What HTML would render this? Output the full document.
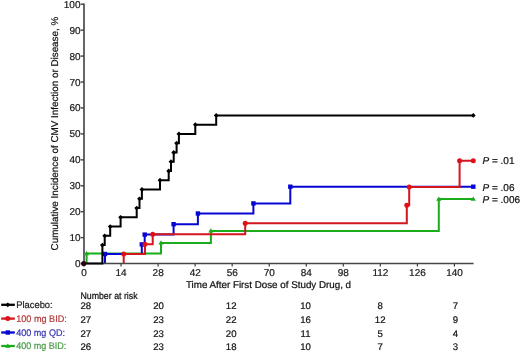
<!DOCTYPE html>
<html><head><meta charset="utf-8"><style>
html,body{margin:0;padding:0;background:#fff;}
svg{display:block;will-change:transform;}
text{font-family:"Liberation Sans",sans-serif;text-rendering:geometricPrecision;}
</style></head><body>
<svg width="520" height="351" viewBox="0 0 520 351">
<rect width="520" height="351" fill="#fff"/>

<line x1="84.0" y1="3.4" x2="84.0" y2="264.40000000000003" stroke="#666" stroke-width="2"/>
<line x1="80.8" y1="263.6" x2="84.0" y2="263.6" stroke="#4a4a4a" stroke-width="1.5"/>
<text x="80.5" y="267.1" font-size="10" text-anchor="end" fill="#1a1a1a" stroke="#1a1a1a" stroke-width="0.22">0</text>
<line x1="80.8" y1="237.66" x2="84.0" y2="237.66" stroke="#4a4a4a" stroke-width="1.5"/>
<text x="80.5" y="241.16" font-size="10" text-anchor="end" fill="#1a1a1a" stroke="#1a1a1a" stroke-width="0.22">10</text>
<line x1="80.8" y1="211.72" x2="84.0" y2="211.72" stroke="#4a4a4a" stroke-width="1.5"/>
<text x="80.5" y="215.22" font-size="10" text-anchor="end" fill="#1a1a1a" stroke="#1a1a1a" stroke-width="0.22">20</text>
<line x1="80.8" y1="185.78" x2="84.0" y2="185.78" stroke="#4a4a4a" stroke-width="1.5"/>
<text x="80.5" y="189.28" font-size="10" text-anchor="end" fill="#1a1a1a" stroke="#1a1a1a" stroke-width="0.22">30</text>
<line x1="80.8" y1="159.84" x2="84.0" y2="159.84" stroke="#4a4a4a" stroke-width="1.5"/>
<text x="80.5" y="163.34" font-size="10" text-anchor="end" fill="#1a1a1a" stroke="#1a1a1a" stroke-width="0.22">40</text>
<line x1="80.8" y1="133.9" x2="84.0" y2="133.9" stroke="#4a4a4a" stroke-width="1.5"/>
<text x="80.5" y="137.4" font-size="10" text-anchor="end" fill="#1a1a1a" stroke="#1a1a1a" stroke-width="0.22">50</text>
<line x1="80.8" y1="107.96" x2="84.0" y2="107.96" stroke="#4a4a4a" stroke-width="1.5"/>
<text x="80.5" y="111.46" font-size="10" text-anchor="end" fill="#1a1a1a" stroke="#1a1a1a" stroke-width="0.22">60</text>
<line x1="80.8" y1="82.02" x2="84.0" y2="82.02" stroke="#4a4a4a" stroke-width="1.5"/>
<text x="80.5" y="85.52" font-size="10" text-anchor="end" fill="#1a1a1a" stroke="#1a1a1a" stroke-width="0.22">70</text>
<line x1="80.8" y1="56.08" x2="84.0" y2="56.08" stroke="#4a4a4a" stroke-width="1.5"/>
<text x="80.5" y="59.58" font-size="10" text-anchor="end" fill="#1a1a1a" stroke="#1a1a1a" stroke-width="0.22">80</text>
<line x1="80.8" y1="30.14" x2="84.0" y2="30.14" stroke="#4a4a4a" stroke-width="1.5"/>
<text x="80.5" y="33.64" font-size="10" text-anchor="end" fill="#1a1a1a" stroke="#1a1a1a" stroke-width="0.22">90</text>
<line x1="80.8" y1="4.2" x2="84.0" y2="4.2" stroke="#4a4a4a" stroke-width="1.5"/>
<text x="80.5" y="7.7" font-size="10" text-anchor="end" fill="#1a1a1a" stroke="#1a1a1a" stroke-width="0.22">100</text>
<line x1="84" y1="263.6" x2="84" y2="266.6" stroke="#2a2a2a" stroke-width="1.1"/>
<text x="84.1" y="275.9" font-size="10" text-anchor="middle" fill="#1a1a1a" stroke="#1a1a1a" stroke-width="0.22">0</text>
<line x1="121.04" y1="263.6" x2="121.04" y2="266.6" stroke="#2a2a2a" stroke-width="1.1"/>
<text x="121.14" y="275.9" font-size="10" text-anchor="middle" fill="#1a1a1a" stroke="#1a1a1a" stroke-width="0.22">14</text>
<line x1="158.08" y1="263.6" x2="158.08" y2="266.6" stroke="#2a2a2a" stroke-width="1.1"/>
<text x="158.18" y="275.9" font-size="10" text-anchor="middle" fill="#1a1a1a" stroke="#1a1a1a" stroke-width="0.22">28</text>
<line x1="195.12" y1="263.6" x2="195.12" y2="266.6" stroke="#2a2a2a" stroke-width="1.1"/>
<text x="195.22" y="275.9" font-size="10" text-anchor="middle" fill="#1a1a1a" stroke="#1a1a1a" stroke-width="0.22">42</text>
<line x1="232.16" y1="263.6" x2="232.16" y2="266.6" stroke="#2a2a2a" stroke-width="1.1"/>
<text x="232.26" y="275.9" font-size="10" text-anchor="middle" fill="#1a1a1a" stroke="#1a1a1a" stroke-width="0.22">56</text>
<line x1="269.2" y1="263.6" x2="269.2" y2="266.6" stroke="#2a2a2a" stroke-width="1.1"/>
<text x="269.3" y="275.9" font-size="10" text-anchor="middle" fill="#1a1a1a" stroke="#1a1a1a" stroke-width="0.22">70</text>
<line x1="306.24" y1="263.6" x2="306.24" y2="266.6" stroke="#2a2a2a" stroke-width="1.1"/>
<text x="306.34" y="275.9" font-size="10" text-anchor="middle" fill="#1a1a1a" stroke="#1a1a1a" stroke-width="0.22">84</text>
<line x1="343.28" y1="263.6" x2="343.28" y2="266.6" stroke="#2a2a2a" stroke-width="1.1"/>
<text x="343.38" y="275.9" font-size="10" text-anchor="middle" fill="#1a1a1a" stroke="#1a1a1a" stroke-width="0.22">98</text>
<line x1="380.32" y1="263.6" x2="380.32" y2="266.6" stroke="#2a2a2a" stroke-width="1.1"/>
<text x="380.42" y="275.9" font-size="10" text-anchor="middle" fill="#1a1a1a" stroke="#1a1a1a" stroke-width="0.22">112</text>
<line x1="417.36" y1="263.6" x2="417.36" y2="266.6" stroke="#2a2a2a" stroke-width="1.1"/>
<text x="417.46" y="275.9" font-size="10" text-anchor="middle" fill="#1a1a1a" stroke="#1a1a1a" stroke-width="0.22">126</text>
<line x1="454.4" y1="263.6" x2="454.4" y2="266.6" stroke="#2a2a2a" stroke-width="1.1"/>
<text x="454.5" y="275.9" font-size="10" text-anchor="middle" fill="#1a1a1a" stroke="#1a1a1a" stroke-width="0.22">140</text>
<text x="268.5" y="287.5" font-size="9.8" text-anchor="middle" fill="#111" stroke="#111" stroke-width="0.22">Time After First Dose of Study Drug, d</text>
<text transform="translate(58.3,133.6) rotate(-90)" x="0" y="0" font-size="9.85" text-anchor="middle" fill="#111" stroke="#111" stroke-width="0.22">Cumulative Incidence of CMV Infection or Disease, %</text>
<path d="M86.6 263.6L86.6 263.6L86.6 253.6L161 253.6L161 242.9L210.9 242.9L210.9 230.9L438.8 230.9L438.8 199L473.3 199" fill="none" stroke="#1aac1a" stroke-width="2" stroke-linejoin="miter" stroke-linecap="butt"/>
<path d="M84 255.3L86.6 251L89.2 255.3Z" fill="#1aac1a"/>
<path d="M158.4 244.6L161 240.3L163.6 244.6Z" fill="#1aac1a"/>
<path d="M208.3 232.6L210.9 228.3L213.5 232.6Z" fill="#1aac1a"/>
<path d="M436.2 200.7L438.8 196.4L441.4 200.7Z" fill="#1aac1a"/>
<path d="M470.7 200.7L473.3 196.4L475.9 200.7Z" fill="#1aac1a"/>
<path d="M105 263.6L105 263.6L105 254L141.8 254L141.8 244.4L144.7 244.4L144.7 234.6L173.6 234.6L173.6 224.2L197.9 224.2L197.9 213.5L253.4 213.5L253.4 203.4L290.3 203.4L290.3 186.7L473.3 186.7" fill="none" stroke="#0606d2" stroke-width="2" stroke-linejoin="miter" stroke-linecap="butt"/>
<rect x="102.8" y="251.8" width="4.4" height="4.4" fill="#0606d2"/>
<rect x="139.6" y="242.2" width="4.4" height="4.4" fill="#0606d2"/>
<rect x="142.5" y="232.4" width="4.4" height="4.4" fill="#0606d2"/>
<rect x="171.4" y="222" width="4.4" height="4.4" fill="#0606d2"/>
<rect x="195.7" y="211.3" width="4.4" height="4.4" fill="#0606d2"/>
<rect x="251.2" y="201.2" width="4.4" height="4.4" fill="#0606d2"/>
<rect x="288.1" y="184.5" width="4.4" height="4.4" fill="#0606d2"/>
<rect x="471.1" y="184.5" width="4.4" height="4.4" fill="#0606d2"/>
<path d="M123.7 263.6L123.7 263.6L123.7 254L145 254L145 244.2L152.7 244.2L152.7 234.2L245.2 234.2L245.2 223.2L406.8 223.2L406.8 205.3L409.2 205.3L409.2 186.9L459.6 186.9L459.6 160.7L473.3 160.7" fill="none" stroke="#d4161e" stroke-width="2" stroke-linejoin="miter" stroke-linecap="butt"/>
<circle cx="123.7" cy="254" r="2.5" fill="#e01018"/>
<circle cx="145" cy="244.2" r="2.5" fill="#e01018"/>
<circle cx="152.7" cy="234.2" r="2.5" fill="#e01018"/>
<circle cx="245.2" cy="223.2" r="2.5" fill="#e01018"/>
<circle cx="406.8" cy="205.3" r="2.5" fill="#e01018"/>
<circle cx="409.2" cy="186.9" r="2.5" fill="#e01018"/>
<circle cx="459.6" cy="160.7" r="2.5" fill="#e01018"/>
<circle cx="473.3" cy="160.7" r="2.5" fill="#e01018"/>
<line x1="83.0" y1="263.6" x2="473.6" y2="263.6" stroke="#474747" stroke-width="1.5"/>
<path d="M84 263.6L102.4 263.6L102.4 245.08L104.7 245.08L104.7 235.82L110.2 235.82L110.2 226.56L120.6 226.56L120.6 217.3L136.7 217.3L136.7 208.04L139.5 208.04L139.5 198.78L141.9 198.78L141.9 189.52L160 189.52L160 180.26L168.7 180.26L168.7 171L171 171L171 161.74L173.7 161.74L173.7 152.48L176.6 152.48L176.6 143.22L178.9 143.22L178.9 133.96L195.3 133.96L195.3 124.7L216.2 124.7L216.2 115.44L473.3 115.44" fill="none" stroke="#000" stroke-width="2" stroke-linejoin="miter" stroke-linecap="butt"/>
<path d="M100 245.08L102.4 242.68L104.8 245.08L102.4 247.48Z" fill="#000"/>
<path d="M102.3 235.82L104.7 233.42L107.1 235.82L104.7 238.22Z" fill="#000"/>
<path d="M107.8 226.56L110.2 224.16L112.6 226.56L110.2 228.96Z" fill="#000"/>
<path d="M118.2 217.3L120.6 214.9L123 217.3L120.6 219.7Z" fill="#000"/>
<path d="M134.3 208.04L136.7 205.64L139.1 208.04L136.7 210.44Z" fill="#000"/>
<path d="M137.1 198.78L139.5 196.38L141.9 198.78L139.5 201.18Z" fill="#000"/>
<path d="M139.5 189.52L141.9 187.12L144.3 189.52L141.9 191.92Z" fill="#000"/>
<path d="M157.6 180.26L160 177.86L162.4 180.26L160 182.66Z" fill="#000"/>
<path d="M166.3 171L168.7 168.6L171.1 171L168.7 173.4Z" fill="#000"/>
<path d="M168.6 161.74L171 159.34L173.4 161.74L171 164.14Z" fill="#000"/>
<path d="M171.3 152.48L173.7 150.08L176.1 152.48L173.7 154.88Z" fill="#000"/>
<path d="M174.2 143.22L176.6 140.82L179 143.22L176.6 145.62Z" fill="#000"/>
<path d="M176.5 133.96L178.9 131.56L181.3 133.96L178.9 136.36Z" fill="#000"/>
<path d="M192.9 124.7L195.3 122.3L197.7 124.7L195.3 127.1Z" fill="#000"/>
<path d="M213.8 115.44L216.2 113.04L218.6 115.44L216.2 117.84Z" fill="#000"/>
<path d="M470.9 115.44L473.3 113.04L475.7 115.44L473.3 117.84Z" fill="#000"/>
<circle cx="83.7" cy="263.6" r="2.6" fill="#300012"/>
<text x="482.5" y="164.2" font-size="10" fill="#111" stroke="#111" stroke-width="0.22"><tspan font-style="italic">P</tspan> = .01</text>
<text x="482.5" y="191.0" font-size="10" fill="#111" stroke="#111" stroke-width="0.22"><tspan font-style="italic">P</tspan> = .06</text>
<text x="482.5" y="203.4" font-size="10" fill="#111" stroke="#111" stroke-width="0.22"><tspan font-style="italic">P</tspan> = .006</text>
<text x="80.4" y="299" font-size="9.6" textLength="57.2" lengthAdjust="spacingAndGlyphs" fill="#111" stroke="#111" stroke-width="0.22">Number at risk</text>
<line x1="1.2" y1="304.8" x2="14.8" y2="304.8" stroke="#000" stroke-width="2.3"/>
<path d="M5.4 304.8L7.8 302.4L10.2 304.8L7.8 307.2Z" fill="#000"/>
<text x="16.2" y="308.3" font-size="9.6" textLength="36.5" lengthAdjust="spacingAndGlyphs" fill="#222" stroke="#222" stroke-width="0.22">Placebo:</text>
<text x="85.8" y="309.2" font-size="9.6" text-anchor="middle" fill="#151515" stroke="#151515" stroke-width="0.22">28</text>
<text x="158.6" y="309.2" font-size="9.6" text-anchor="middle" fill="#151515" stroke="#151515" stroke-width="0.22">20</text>
<text x="231.2" y="309.2" font-size="9.6" text-anchor="middle" fill="#151515" stroke="#151515" stroke-width="0.22">12</text>
<text x="305.6" y="309.2" font-size="9.6" text-anchor="middle" fill="#151515" stroke="#151515" stroke-width="0.22">10</text>
<text x="380.2" y="309.2" font-size="9.6" text-anchor="middle" fill="#151515" stroke="#151515" stroke-width="0.22">8</text>
<text x="455.4" y="309.2" font-size="9.6" text-anchor="middle" fill="#151515" stroke="#151515" stroke-width="0.22">7</text>
<line x1="1.2" y1="318.6" x2="14.8" y2="318.6" stroke="#d4161e" stroke-width="2.3"/>
<circle cx="7.8" cy="318.6" r="2.5" fill="#e01018"/>
<text x="16.2" y="321.7" font-size="9.6" textLength="50.6" lengthAdjust="spacingAndGlyphs" fill="#b43c3c" stroke="#b43c3c" stroke-width="0.22">100 mg BID:</text>
<text x="85.8" y="322.8" font-size="9.6" text-anchor="middle" fill="#151515" stroke="#151515" stroke-width="0.22">27</text>
<text x="158.6" y="322.8" font-size="9.6" text-anchor="middle" fill="#151515" stroke="#151515" stroke-width="0.22">23</text>
<text x="231.2" y="322.8" font-size="9.6" text-anchor="middle" fill="#151515" stroke="#151515" stroke-width="0.22">22</text>
<text x="305.6" y="322.8" font-size="9.6" text-anchor="middle" fill="#151515" stroke="#151515" stroke-width="0.22">16</text>
<text x="380.2" y="322.8" font-size="9.6" text-anchor="middle" fill="#151515" stroke="#151515" stroke-width="0.22">12</text>
<text x="455.4" y="322.8" font-size="9.6" text-anchor="middle" fill="#151515" stroke="#151515" stroke-width="0.22">9</text>
<line x1="1.2" y1="332.5" x2="14.8" y2="332.5" stroke="#0606d2" stroke-width="2.3"/>
<rect x="5.6" y="330.3" width="4.4" height="4.4" fill="#0606d2"/>
<text x="16.2" y="335.6" font-size="9.6" textLength="48.8" lengthAdjust="spacingAndGlyphs" fill="#3838b0" stroke="#3838b0" stroke-width="0.22">400 mg QD:</text>
<text x="85.8" y="336.6" font-size="9.6" text-anchor="middle" fill="#151515" stroke="#151515" stroke-width="0.22">27</text>
<text x="158.6" y="336.6" font-size="9.6" text-anchor="middle" fill="#151515" stroke="#151515" stroke-width="0.22">23</text>
<text x="231.2" y="336.6" font-size="9.6" text-anchor="middle" fill="#151515" stroke="#151515" stroke-width="0.22">20</text>
<text x="305.6" y="336.6" font-size="9.6" text-anchor="middle" fill="#151515" stroke="#151515" stroke-width="0.22">11</text>
<text x="380.2" y="336.6" font-size="9.6" text-anchor="middle" fill="#151515" stroke="#151515" stroke-width="0.22">5</text>
<text x="455.4" y="336.6" font-size="9.6" text-anchor="middle" fill="#151515" stroke="#151515" stroke-width="0.22">4</text>
<line x1="1.2" y1="346.0" x2="14.8" y2="346.0" stroke="#1aac1a" stroke-width="2.3"/>
<path d="M5.2 347.7L7.8 343.4L10.4 347.7Z" fill="#1aac1a"/>
<text x="16.2" y="348.6" font-size="9.6" textLength="50.2" lengthAdjust="spacingAndGlyphs" fill="#4c9c4c" stroke="#4c9c4c" stroke-width="0.22">400 mg BID:</text>
<text x="85.8" y="349.7" font-size="9.6" text-anchor="middle" fill="#151515" stroke="#151515" stroke-width="0.22">26</text>
<text x="158.6" y="349.7" font-size="9.6" text-anchor="middle" fill="#151515" stroke="#151515" stroke-width="0.22">23</text>
<text x="231.2" y="349.7" font-size="9.6" text-anchor="middle" fill="#151515" stroke="#151515" stroke-width="0.22">18</text>
<text x="305.6" y="349.7" font-size="9.6" text-anchor="middle" fill="#151515" stroke="#151515" stroke-width="0.22">10</text>
<text x="380.2" y="349.7" font-size="9.6" text-anchor="middle" fill="#151515" stroke="#151515" stroke-width="0.22">7</text>
<text x="455.4" y="349.7" font-size="9.6" text-anchor="middle" fill="#151515" stroke="#151515" stroke-width="0.22">3</text>
</svg>
</body></html>
